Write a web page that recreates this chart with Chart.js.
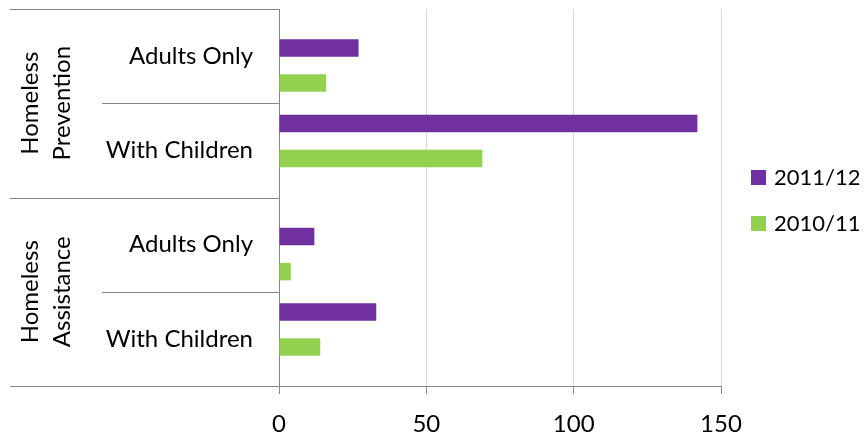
<!DOCTYPE html>
<html>
<head>
<meta charset="utf-8">
<script src="https://cdn.jsdelivr.net/npm/chart.js@4.4.1/dist/chart.umd.min.js"></script>
<style>
  html, body { margin: 0; padding: 0; background: #fff; }
</style>
</head>
<body>
<canvas id="chart" width="868" height="435"></canvas>
<script>
const groups = [['Homeless', 'Prevention'], ['Homeless', 'Assistance']];
const categories = ['Adults Only', 'With Children', 'Adults Only', 'With Children'];
const seriesNames = ['2011/12', '2010/11'];
const values2011 = [27, 142, 12, 33];
const values2010 = [16, 69, 4, 14];
const xTicks = [0, 50, 100, 150];

const FONT = 'Lato';
const PURPLE = '#7030A0', GREEN = '#92D050';
const LINE = '#868686', GRID = '#d9d9d9';

// each group is 5 slots high, its two categories sit on slots 1 and 3
const SLOTS_PER_GROUP = 5;
const perGroup = categories.length / groups.length;
const slotCount = groups.length * SLOTS_PER_GROUP;

function toSlots(vals) {
    let out = new Array(slotCount).fill(null);
    vals.forEach((v, i) => {
        const g = Math.floor(i / perGroup), k = i % perGroup;
        out[g * SLOTS_PER_GROUP + 1 + 2 * k] = v;
    });
    return out;
}

// left side labels, separator lines and the legend
const sideLabels = {
    id: 'sideLabels',
    afterDraw(chart) {
        const { ctx, chartArea: a } = chart;
        const band = (a.bottom - a.top) / categories.length;
        ctx.save();
        ctx.strokeStyle = LINE;
        ctx.lineWidth = 1;
        for (let i = 0; i <= categories.length; i++) {
            const y = Math.round(a.top + band * i) + 0.5;
            const x0 = (i % perGroup === 0) ? 10 : 102;
            ctx.beginPath();
            ctx.moveTo(x0, y);
            ctx.lineTo(a.left, y);
            ctx.stroke();
        }

        ctx.fillStyle = '#000';
        ctx.font = `24px ${FONT}`;
        ctx.textAlign = 'right';
        ctx.textBaseline = 'middle';
        categories.forEach((c, i) => ctx.fillText(c, 253, a.top + band * (i + 0.5)));

        groups.forEach((lines, g) => {
            const cy = a.top + band * perGroup * (g + 0.5);
            ctx.save();
            ctx.translate(46, cy);
            ctx.rotate(-Math.PI / 2);
            ctx.textAlign = 'center';
            lines.forEach((t, j) => ctx.fillText(t, 0, (j - (lines.length - 1) / 2) * 32));
            ctx.restore();
        });

        // legend
        const mid = (a.top + a.bottom) / 2;
        ctx.textAlign = 'left';
        ctx.font = `22px ${FONT}`;
        chart.data.datasets.forEach((ds, i) => {
            const cy = mid - 20 + i * 46;
            ctx.fillStyle = ds.backgroundColor;
            ctx.fillRect(751, cy - 7.5, 15, 15);
            ctx.fillStyle = '#000';
            ctx.fillText(ds.label, 774, cy);
        });
        ctx.restore();
    }
};

new Chart(document.getElementById('chart'), {
    type: 'bar',
    data: {
        labels: new Array(slotCount).fill(''),
        datasets: [
            { label: seriesNames[0], data: toSlots(values2011), backgroundColor: PURPLE },
            { label: seriesNames[1], data: toSlots(values2010), backgroundColor: GREEN }
        ]
    },
    options: {
        indexAxis: 'y',
        responsive: false,
        animation: false,
        devicePixelRatio: 1,
        layout: { padding: { left: 279, right: 147, top: 9, bottom: 0 } },
        datasets: { bar: { categoryPercentage: 1.86, barPercentage: 0.497 } },
        scales: {
            y: { display: false },
            x: {
                min: 0,
                max: 150,
                afterBuildTicks: s => { s.ticks = xTicks.map(v => ({ value: v })); },
                afterFit: s => { s.height = 49; },
                grid: {
                    color: c => (c.tick && c.tick.value === 0) ? LINE : GRID,
                    tickColor: LINE,
                    tickLength: 8,
                    lineWidth: 1
                },
                border: { display: true, color: LINE },
                ticks: { color: '#000', font: { family: FONT, size: 24 }, padding: 16 }
            }
        },
        plugins: { legend: { display: false }, tooltip: { enabled: false } }
    },
    plugins: [sideLabels]
});
</script>
</body>
</html>
